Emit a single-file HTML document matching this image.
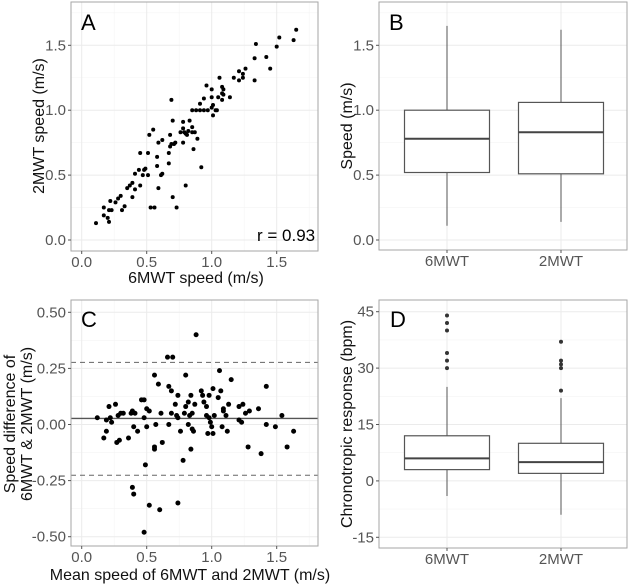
<!DOCTYPE html>
<html><head><meta charset="utf-8">
<style>
body{margin:0;background:#fff;}
svg{display:block;font-family:"Liberation Sans",sans-serif;}
</style></head>
<body>
<svg id="chart" width="632" height="586" viewBox="0 0 632 586" xmlns="http://www.w3.org/2000/svg"></svg>
<script>
// Panel A data
const aX=[0.11,0.17,0.17,0.2,0.21,0.21,0.23,0.22,0.26,0.28,0.30,0.31,0.33,0.35,0.37,0.39,0.39,0.41,0.41,0.44,0.45,0.45,0.47,0.48,0.49,0.51,0.51,0.52,0.53,0.56,0.55,0.58,0.58,0.59,0.59,0.62,0.61,0.62,0.67,0.67,0.68,0.68,0.69,0.69,0.70,0.70,0.71,0.72,0.73,0.76,0.78,0.78,0.78,0.79,0.80,0.80,0.82,0.81,0.83,0.85,0.85,0.87,0.86,0.89,0.92,0.85,0.88,0.91,0.94,0.91,0.94,0.96,0.97,1.0,1.0,1.01,1.01,1.03,1.04,1.0,1.06,1.05,1.08,1.08,1.09,1.08,1.09,1.14,1.17,1.21,1.21,1.24,1.24,1.26,1.33,1.34,1.33,1.42,1.45,1.50,1.52,1.63,1.65];
const aY=[0.13,0.25,0.19,0.17,0.14,0.23,0.23,0.30,0.29,0.32,0.34,0.23,0.26,0.40,0.42,0.44,0.33,0.39,0.51,0.54,0.42,0.67,0.50,0.54,0.55,0.67,0.50,0.81,0.25,0.25,0.85,0.57,0.64,0.40,0.75,0.77,0.50,0.51,0.59,0.67,0.72,0.81,0.74,1.08,0.92,0.33,0.74,0.75,0.25,0.83,0.75,0.91,0.86,0.83,0.42,0.82,0.84,0.81,0.92,0.87,0.83,0.83,0.70,0.78,0.56,1.00,1.00,1.00,1.00,1.05,1.09,1.19,1.00,1.10,1.16,1.04,0.96,1.00,1.00,1.02,1.25,1.10,1.13,1.18,1.16,1.08,1.12,1.10,1.25,1.23,1.30,1.25,1.28,1.32,1.40,1.51,1.23,1.41,1.32,1.49,1.56,1.54,1.62];
// Panel B data
const bCats=["6MWT","2MWT"];
const bLow=[0.11,0.14];
const bQ1=[0.52,0.51];
const bMed=[0.78,0.83];
const bQ3=[1.0,1.06];
const bHigh=[1.65,1.62];
// Panel C data
const cX=[0.12,0.17,0.19,0.19,0.21,0.22,0.23,0.26,0.27,0.28,0.29,0.30,0.32,0.36,0.38,0.39,0.40,0.41,0.43,0.39,0.40,0.46,0.48,0.48,0.49,0.50,0.50,0.52,0.52,0.48,0.56,0.56,0.56,0.57,0.59,0.61,0.60,0.62,0.66,0.70,0.67,0.67,0.69,0.69,0.72,0.73,0.74,0.74,0.74,0.76,0.78,0.79,0.80,0.80,0.82,0.82,0.83,0.84,0.84,0.85,0.85,0.86,0.87,0.88,0.92,0.93,0.94,0.96,0.96,0.98,0.97,0.98,0.99,1.00,1.01,1.01,1.02,1.05,1.06,1.07,1.08,1.09,1.09,1.11,1.12,1.13,1.15,1.21,1.21,1.23,1.24,1.26,1.28,1.29,1.36,1.38,1.42,1.42,1.49,1.54,1.58,1.63];
const cY=[0.03,-0.06,0.02,-0.03,0.08,0.03,0.01,0.09,-0.08,0.04,-0.07,0.05,0.05,-0.06,0.05,0.06,-0.01,0.05,-0.03,-0.28,-0.31,0.11,0.11,0.03,-0.18,-0.01,0.07,0.06,-0.36,-0.48,0.22,-0.11,-0.10,0.00,0.18,0.05,-0.38,-0.08,0.30,0.30,0.00,0.17,0.15,0.05,0.09,0.04,0.03,0.13,-0.35,-0.03,-0.16,0.05,0.08,0.22,0.00,0.10,0.04,0.13,-0.11,-0.02,0.05,-0.03,0.09,0.40,0.15,0.13,0.10,0.08,0.04,0.13,-0.04,0.03,0.01,-0.01,0.16,-0.04,0.04,0.12,0.24,0.15,-0.01,0.06,0.07,0.04,-0.03,0.09,0.20,0.08,0.02,0.01,0.09,0.05,-0.10,0.06,0.07,-0.13,0.00,0.17,-0.01,0.04,-0.10,-0.03];
const cMean=[0.027];
const cLimits=[0.277,-0.226];
// Panel D data
const dCats=["6MWT","2MWT"];
const dLow=[-4,-9];
const dQ1=[3,2];
const dMed=[6,5];
const dQ3=[12,10];
const dHigh=[25,22];
const dOut6=[30,32,34,40,42,44];
const dOut2=[24,30,31,32,37];
const speedTicks=[0,0.5,1.0,1.5];
const speedTickLabels=["0.0","0.5","1.0","1.5"];
const diffTicks=[-0.5,-0.25,0,0.25,0.5];
const diffTickLabels=["-0.50","-0.25","0.00","0.25","0.50"];
const hrTicks=[-15,0,15,30,45];
const hrTickLabels=["-15","0","15","30","45"];

const svg=document.getElementById('chart');
const NS='http://www.w3.org/2000/svg';
function mk(tag,attrs,parent){const e=document.createElementNS(NS,tag);for(const k in attrs)e.setAttribute(k,attrs[k]);(parent||svg).appendChild(e);return e;}

const axA=v=>81.7+v*130, ayA=v=>240-v*129.8;
const ayB=v=>240-v*129.8;
const axC=v=>81.7+v*130, ayC=v=>424.5-v*224.4;
const ayD=v=>480.9-v*3.76;
const catX=[447,561];

function panel(name,L,T,R,B){
  const g=mk('g',{});
  
  
  mk('rect',{x:L,y:T,width:R-L,height:B-T,fill:'#fff'},g);
  return g;
}
function grid(g,L,T,R,B,xs,ys,minor){
  for(const y of ys){const l=mk('line',{x1:L,x2:R,y1:y,y2:y,stroke:minor?'#f4f4f4':'#ebebeb','stroke-width':minor?0.6:1},g);
    
    }
  for(const x of xs){const l=mk('line',{x1:x,x2:x,y1:T,y2:B,stroke:minor?'#f4f4f4':'#ebebeb','stroke-width':minor?0.6:1},g);
    
    }
}
function border(g,L,T,R,B){const r=mk('rect',{x:L,y:T,width:R-L,height:B-T,fill:'none',stroke:'#a6a6a6','stroke-width':1},g);
  
  }
function text(g,str,x,y,opts){const t=mk('text',Object.assign({x:x,y:y,'font-size':13,fill:'#4d4d4d'},opts||{}),g);t.textContent=str;return t;}
function yTicks(g,L,vals,labels,sc){
  vals.forEach((v,i)=>{const y=sc(v);mk('line',{x1:L-3,x2:L,y1:y,y2:y,stroke:'#555'},g);
    const t=text(g,labels[i],L-5,y+5,{'text-anchor':'end','font-size':15,fill:'#555'});
    
    });
}
function xTicks(g,B,vals,labels,sc,yy){
  vals.forEach((v,i)=>{const x=sc(v);mk('line',{x1:x,x2:x,y1:B,y2:B+3,stroke:'#555'},g);
    const t=text(g,labels[i],x,yy,{'text-anchor':'middle','font-size':15,fill:'#555'});
    
    });
}
function mids(a){const r=[];for(let i=0;i<a.length-1;i++)r.push((a[i]+a[i+1])/2);return r;}

// ---- Panel A
{const L=71,T=2,R=318,B=251;const g=panel('panel-a',L,T,R,B);
 grid(g,L,T,R,B,mids(speedTicks).concat([1.75]).map(axA),mids(speedTicks).concat([1.75]).map(ayA),true);
 grid(g,L,T,R,B,speedTicks.map(axA),speedTicks.map(ayA),false);
 aX.forEach((v,i)=>{const c=mk('circle',{cx:axA(v),cy:ayA(aY[i]),r:2,fill:'#000'},g);
   
   });
 border(g,L,T,R,B);
 yTicks(g,L,speedTicks,speedTickLabels,ayA);
 xTicks(g,B,speedTicks,speedTickLabels,axA,267);
 const t1=text(g,'A',81,30,{'font-size':22,fill:'#000'});
 const t2=text(g,'r = 0.93',257,241,{'font-size':17,fill:'#000'});
 const t3=text(g,'6MWT speed (m/s)',196,283,{'text-anchor':'middle','font-size':16,fill:'#111'});
 const t4=text(g,'2MWT speed (m/s)',0,0,{'text-anchor':'middle','font-size':16,fill:'#111',transform:'translate(44,126) rotate(-90)'});
}
function boxes(g,cats,lo,q1,md,q3,hi,sc){
  cats.forEach((c,i)=>{const x=catX[i],hw=42.5;
    const w1=mk('line',{x1:x,x2:x,y1:sc(hi[i]),y2:sc(q3[i]),stroke:'#555','stroke-width':1},g);
    
    
    const w2=mk('line',{x1:x,x2:x,y1:sc(q1[i]),y2:sc(lo[i]),stroke:'#555','stroke-width':1},g);
    
    
    const b=mk('rect',{x:x-hw,y:sc(q3[i]),width:2*hw,height:sc(q1[i])-sc(q3[i]),fill:'#fff',stroke:'#555','stroke-width':1.2},g);
    
    
    const m=mk('line',{x1:x-hw,x2:x+hw,y1:sc(md[i]),y2:sc(md[i]),stroke:'#444','stroke-width':2},g);
    
    
  });
}
// ---- Panel B
{const L=379,T=2,R=627,B=250;const g=panel('panel-b',L,T,R,B);
 grid(g,L,T,R,B,[],mids(speedTicks).concat([1.75]).map(ayB),true);
 grid(g,L,T,R,B,catX,speedTicks.map(ayB),false);
 boxes(g,bCats,bLow,bQ1,bMed,bQ3,bHigh,ayB);
 border(g,L,T,R,B);
 yTicks(g,L,speedTicks,speedTickLabels,ayB);
 xTicks(g,B,[0,1],bCats,i=>catX[i],266);
 const t1=text(g,'B',389,30,{'font-size':22,fill:'#000'});
 const t4=text(g,'Speed (m/s)',0,0,{'text-anchor':'middle','font-size':16,fill:'#111',transform:'translate(352,126) rotate(-90)'});
}
// ---- Panel C
{const L=71,T=300,R=318,B=546;const g=panel('panel-c',L,T,R,B);
 grid(g,L,T,R,B,mids(speedTicks).concat([1.75]).map(axC),mids(diffTicks).map(ayC),true);
 grid(g,L,T,R,B,speedTicks.map(axC),diffTicks.map(ayC),false);
 cLimits.forEach(v=>{const l=mk('line',{x1:L,x2:R,y1:ayC(v),y2:ayC(v),stroke:'#666','stroke-dasharray':'5,4','stroke-width':1},g);
   
   });
 const ml=mk('line',{x1:L,x2:R,y1:ayC(cMean[0]),y2:ayC(cMean[0]),stroke:'#555','stroke-width':1.4},g);
 
 
 cX.forEach((v,i)=>{const c=mk('circle',{cx:axC(v),cy:ayC(cY[i]),r:2.5,fill:'#000'},g);
   
   });
 border(g,L,T,R,B);
 yTicks(g,L,diffTicks,diffTickLabels,ayC);
 xTicks(g,B,speedTicks,speedTickLabels,axC,562);
 const t1=text(g,'C',81,327,{'font-size':22,fill:'#000'});
 const t3=text(g,'Mean speed of 6MWT and 2MWT (m/s)',190,580,{'text-anchor':'middle','font-size':16,fill:'#111'});
 const t4=text(g,'Speed difference of',0,0,{'text-anchor':'middle','font-size':16,fill:'#111',transform:'translate(15,424) rotate(-90)'});
 const t5=text(g,'6MWT & 2MWT (m/s)',0,0,{'text-anchor':'middle','font-size':16,fill:'#111',transform:'translate(32,424) rotate(-90)'});
}
// ---- Panel D
{const L=379,T=300,R=627,B=548;const g=panel('panel-d',L,T,R,B);
 grid(g,L,T,R,B,[],mids(hrTicks).map(ayD),true);
 grid(g,L,T,R,B,catX,hrTicks.map(ayD),false);
 boxes(g,dCats,dLow,dQ1,dMed,dQ3,dHigh,ayD);
 [dOut6,dOut2].forEach((arr,i)=>arr.forEach(v=>{const c=mk('circle',{cx:catX[i],cy:ayD(v),r:2,fill:'#333'},g);
   
   }));
 border(g,L,T,R,B);
 yTicks(g,L,hrTicks,hrTickLabels,ayD);
 xTicks(g,B,[0,1],dCats,i=>catX[i],564);
 const t1=text(g,'D',390,327,{'font-size':22,fill:'#000'});
 const t4=text(g,'Chronotropic response (bpm)',0,0,{'text-anchor':'middle','font-size':16,fill:'#111',transform:'translate(352,424) rotate(-90)'});
}
</script>
</body></html>
